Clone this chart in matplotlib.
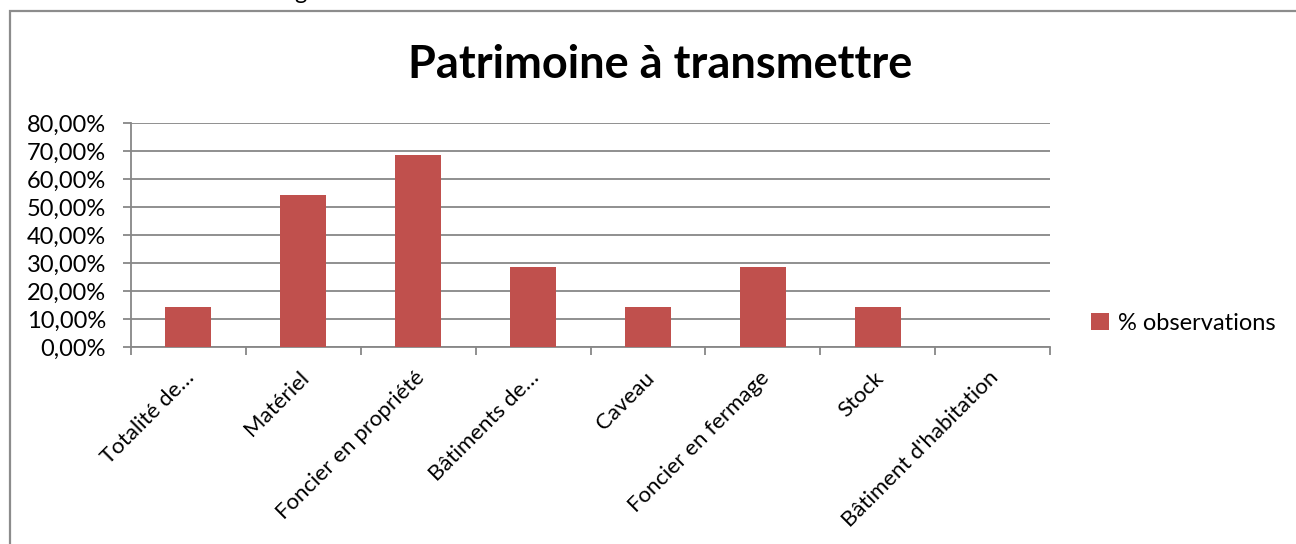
import matplotlib
matplotlib.use("Agg")
import matplotlib.pyplot as plt
import matplotlib.patches as mpatches
from matplotlib.transforms import ScaledTranslation
from matplotlib.ticker import FuncFormatter
import numpy as np

plt.rcParams.update({
    "font.family": ["Lato", "DejaVu Sans"],
    "font.size": 17,
})

categories = [
    "Totalité de…",
    "Matériel",
    "Foncier en propriété",
    "Bâtiments de…",
    "Caveau",
    "Foncier en fermage",
    "Stock",
    "Bâtiment d'habitation",
]
pct_observations = [14.29, 54.29, 68.57, 28.57, 14.29, 28.57, 14.29, 0.0]
y_ticks = [0, 10, 20, 30, 40, 50, 60, 70, 80]

BAR_COLOR = "#c0504d"
GRID_COLOR = "#878787"

W, H = 1296, 544
fig = plt.figure(figsize=(W / 100, H / 100), dpi=100)

# outer chart frame (cut off on the right and bottom)
frame = mpatches.Rectangle((10 / W, -0.05), 1.2, 1.05 - 11 / H,
                           transform=fig.transFigure, fill=False,
                           edgecolor="#8c8c8c", linewidth=1.6)
fig.patches.append(frame)

# tail of a cut-off line of text above the chart (as in the source screenshot)
fig.text(300 / W, 1 + 1 / H, "g", ha="center", va="baseline", fontsize=17)

ax = fig.add_axes([131 / W, 1 - 347 / H, 919 / W, 224 / H])
x = np.arange(len(categories))
ax.bar(x, pct_observations, width=0.4, color=BAR_COLOR, zorder=3,
       label="% observations")

ax.set_xlim(-0.5, len(categories) - 0.5)
ax.set_ylim(0, 80)
ax.set_yticks(y_ticks)
ax.yaxis.set_major_formatter(FuncFormatter(lambda v, p: f"{v:.2f}%".replace(".", ",")))
ax.grid(axis="y", color=GRID_COLOR, linewidth=1.3, zorder=0)

ax.set_xticks(x)
ax.set_xticks(np.arange(-0.5, len(categories)), minor=True)
ax.set_xticklabels(categories, rotation=45, ha="right", va="center",
                   rotation_mode="anchor", fontsize=16)
ax.tick_params(axis="x", which="major", length=0, pad=20)
ax.tick_params(axis="x", which="minor", length=6, width=1.3, color=GRID_COLOR)
ax.tick_params(axis="y", length=6, width=1.3, color=GRID_COLOR, pad=12)
offset = ScaledTranslation(3 / 100, 0, fig.dpi_scale_trans)
for lbl in ax.get_xticklabels():
    lbl.set_transform(lbl.get_transform() + offset)

for side in ["top", "right"]:
    ax.spines[side].set_visible(False)
for side in ["left", "bottom"]:
    ax.spines[side].set_color(GRID_COLOR)
    ax.spines[side].set_linewidth(1.3)

fig.text(660 / W, 1 - 65 / H, "Patrimoine à transmettre", ha="center",
         va="center", fontsize=32.5, fontweight="bold")

ax.legend(loc="center left", bbox_to_anchor=(1091 / W, 1 - 323 / H),
          bbox_transform=fig.transFigure, frameon=False,
          handlelength=0.75, handleheight=0.75, handletextpad=0.4,
          borderaxespad=0, borderpad=0)

fig.savefig("out.png", dpi=100)
